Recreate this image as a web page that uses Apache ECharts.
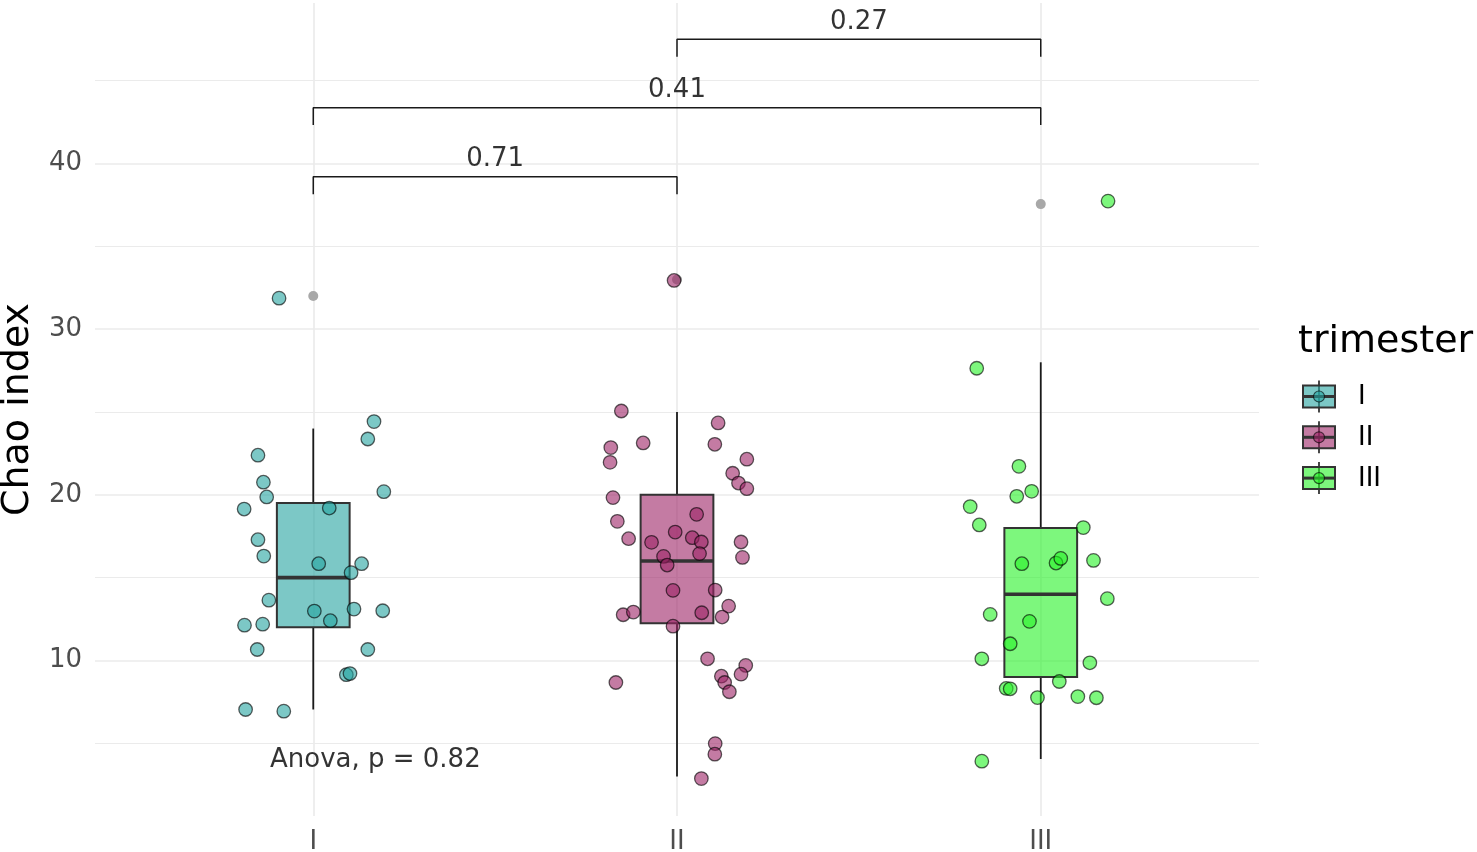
<!DOCTYPE html>
<html>
<head>
<meta charset="utf-8">
<title>Chao index by trimester</title>
<script src="https://cdn.jsdelivr.net/npm/echarts@6/dist/echarts.min.js"></script>
<style>
  html, body { margin: 0; padding: 0; background: #fff; }
  #chart { width: 1477px; height: 852px; }
</style>
</head>
<body>
<div id="chart"></div>
<script>
// categories and tick labels
var categories = ['I', 'II', 'III'];
var yTicks = [10, 20, 30, 40];
var yGrid = [5, 10, 15, 20, 25, 30, 35, 40, 45];

// box stats: [x, lower whisker, Q1, median, Q3, upper whisker]
var boxI = [1, 7.04, 12.0, 15.0, 19.5, 24.0];
var boxII = [2, 3.0, 12.25, 16.0, 20.0, 25.0];
var boxIII = [3, 4.05, 9.0, 14.0, 18.0, 28.0];

// boxplot outliers
var outliers = [[1, 32.0], [2, 33.0], [3, 37.55]];

// jittered samples [x, chao]
var pointsI = [
    [1.167, 24.42], [1.150, 23.37], [0.848, 22.39], [0.863, 20.76], [0.872, 19.87],
    [0.810, 19.14], [1.194, 20.19], [1.044, 19.20], [0.848, 17.29], [0.864, 16.30],
    [1.015, 15.84], [1.133, 15.84], [1.104, 15.30], [0.878, 13.64], [1.003, 12.98],
    [1.112, 13.10], [1.191, 13.00], [1.047, 12.40], [0.811, 12.13], [0.861, 12.19],
    [0.846, 10.66], [1.150, 10.66], [1.091, 9.14], [1.101, 9.21], [0.814, 7.04],
    [0.919, 6.94], [0.906, 31.87]
];
var pointsII = [
    [1.847, 25.06], [2.113, 24.34], [1.907, 23.13], [2.104, 23.05], [1.818, 22.85],
    [1.816, 21.96], [2.192, 22.15], [2.153, 21.30], [2.169, 20.71], [2.192, 20.37],
    [1.824, 19.83], [1.836, 18.40], [2.054, 18.82], [1.867, 17.35], [1.995, 17.75],
    [1.930, 17.13], [2.042, 17.41], [2.067, 17.15], [2.062, 16.45], [2.176, 17.15],
    [2.180, 16.22], [1.963, 16.28], [1.973, 15.76], [1.989, 14.23], [2.105, 14.25],
    [2.142, 13.28], [1.852, 12.76], [1.880, 12.92], [2.068, 12.88], [2.124, 12.62],
    [1.989, 12.07], [2.084, 10.10], [2.189, 9.70], [2.122, 9.05], [2.131, 8.67],
    [2.176, 9.17], [2.144, 8.11], [1.832, 8.67], [2.105, 4.98], [2.104, 4.34],
    [2.067, 2.87], [1.992, 32.94]
];
var pointsIII = [
    [2.824, 27.64], [2.940, 21.72], [2.975, 20.21], [2.934, 19.91], [2.806, 19.29],
    [2.831, 18.18], [3.117, 18.02], [2.948, 15.84], [3.042, 15.88], [3.055, 16.16],
    [3.145, 16.04], [3.183, 13.73], [2.861, 12.78], [2.969, 12.36], [2.916, 11.01],
    [2.838, 10.10], [3.135, 9.86], [3.051, 8.73], [2.905, 8.31], [2.916, 8.29],
    [2.991, 7.76], [3.102, 7.82], [3.153, 7.75], [2.838, 3.92], [3.185, 37.73]
];

// pairwise comparisons
var bracketPairs = [[1, 2], [1, 3], [2, 3]];
var bracketY = [39.2, 43.37, 47.5];
var bracketLabels = ['0.71', '0.41', '0.27'];
var anovaText = 'Anova, p = 0.82';
var anovaPos = [0.881, 3.99];

var fills = ['rgba(37,163,160,0.6)', 'rgba(157,35,102,0.6)', 'rgba(38,242,38,0.6)'];
var font = 'DejaVu Sans';
var tickDrop = 1.05;
var labelLift = 1.05;
var boxHalf = 0.1;

function renderBox(params, api) {
    var x = api.value(0);
    var lo = api.coord([x, api.value(1)]);
    var q1 = api.coord([x, api.value(2)]);
    var med = api.coord([x, api.value(3)]);
    var q3 = api.coord([x, api.value(4)]);
    var hi = api.coord([x, api.value(5)]);
    var hw = api.coord([x + boxHalf, api.value(3)])[0] - med[0];
    var fill = fills[params.seriesIndex - 1];
    return {
        type: 'group',
        children: [
            {type: 'line', shape: {x1: lo[0], y1: lo[1], x2: q1[0], y2: q1[1]},
                style: {stroke: '#1a1a1a', lineWidth: 1.8}},
            {type: 'line', shape: {x1: q3[0], y1: q3[1], x2: hi[0], y2: hi[1]},
                style: {stroke: '#1a1a1a', lineWidth: 1.8}},
            {type: 'rect', shape: {x: med[0] - hw, y: q3[1], width: hw * 2, height: q1[1] - q3[1]},
                style: {fill: fill, stroke: '#333333', lineWidth: 2}},
            {type: 'line', shape: {x1: med[0] - hw, y1: med[1], x2: med[0] + hw, y2: med[1]},
                style: {stroke: '#333333', lineWidth: 3.6}}
        ]
    };
}

function pointSeries(name, data, idx) {
    return {
        name: name,
        type: 'scatter',
        z: 4,
        symbolSize: 13.5,
        data: data,
        itemStyle: {color: fills[idx], borderColor: 'rgba(0,0,0,0.62)', borderWidth: 1.3, opacity: 1}
    };
}

var gridLines = yGrid.map(function (v) {
    var major = v % 10 === 0;
    return {yAxis: v, lineStyle: {color: '#ebebeb', width: major ? 1.7 : 1.1, type: 'solid'}};
}).concat([1, 2, 3].map(function (v) {
    return {xAxis: v, lineStyle: {color: '#ebebeb', width: 1.7, type: 'solid'}};
}));

var series = [
    {
        name: 'grid',
        type: 'line',
        z: 0,
        data: [],
        markLine: {silent: true, z: 0, symbol: ['none', 'none'], label: {show: false}, data: gridLines}
    }
];
[boxI, boxII, boxIII].forEach(function (b, i) {
    series.push({
        name: categories[i] + ' box',
        type: 'custom',
        z: 2,
        renderItem: renderBox,
        encode: {x: 0, y: [1, 2, 3, 4, 5]},
        data: [b]
    });
});
series.push({
    name: 'outliers',
    type: 'scatter',
    z: 3,
    symbolSize: 10,
    data: outliers,
    itemStyle: {color: '#a8a8a8', opacity: 1}
});
series.push(pointSeries('I', pointsI, 0));
series.push(pointSeries('II', pointsII, 1));
series.push(pointSeries('III', pointsIII, 2));

bracketPairs.forEach(function (p, i) {
    var y = bracketY[i];
    series.push({
        name: 'bracket ' + bracketLabels[i],
        type: 'line',
        z: 5,
        symbol: 'none',
        lineStyle: {color: '#1a1a1a', width: 1.5},
        data: [[p[0], y - tickDrop], [p[0], y], [p[1], y], [p[1], y - tickDrop]]
    });
});
series.push({
    name: 'p labels',
    type: 'scatter',
    z: 6,
    symbolSize: 1,
    itemStyle: {color: 'transparent'},
    label: {
        show: true, position: 'inside', color: '#000', fontSize: 26, fontFamily: font,
        formatter: function (p) { return p.value[2]; }
    },
    data: bracketPairs.map(function (p, i) {
        return [(p[0] + p[1]) / 2, bracketY[i] + labelLift, bracketLabels[i]];
    })
});
series.push({
    name: 'anova',
    type: 'scatter',
    z: 6,
    symbolSize: 1,
    itemStyle: {color: 'transparent'},
    label: {
        show: true, position: 'inside', align: 'left', color: '#000', fontSize: 26, fontFamily: font,
        formatter: function (p) { return p.value[2]; }
    },
    data: [[anovaPos[0], anovaPos[1], anovaText]]
});

// legend keys (ggplot-style boxplot glyphs)
var legendChildren = [{
    type: 'text', left: 1298, top: 323,
    style: {text: 'trimester', fontSize: 38, fontFamily: font, fill: '#000'}
}];
categories.forEach(function (c, i) {
    var cy = 396.5 + i * 40.8;
    legendChildren.push(
        {type: 'line', shape: {x1: 1319, y1: cy - 16, x2: 1319, y2: cy + 16}, style: {stroke: '#1a1a1a', lineWidth: 1.6}},
        {type: 'rect', shape: {x: 1303, y: cy - 11, width: 32, height: 22}, style: {fill: fills[i], stroke: '#333333', lineWidth: 2}},
        {type: 'line', shape: {x1: 1303, y1: cy, x2: 1335, y2: cy}, style: {stroke: '#333333', lineWidth: 3}},
        {type: 'circle', shape: {cx: 1319, cy: cy, r: 5.5}, style: {fill: fills[i], stroke: 'rgba(0,0,0,0.62)', lineWidth: 1.2}},
        {type: 'text', x: 1358, y: cy + 1, style: {text: c, fontSize: 26, fontFamily: font, fill: '#000', verticalAlign: 'middle'}}
    );
});

var myChart = echarts.init(document.getElementById('chart'));
var option = {
    animation: false,
    textStyle: {fontFamily: font},
    grid: {left: 95, right: 218, top: 3, bottom: 36, containLabel: false, outerBoundsMode: 'none'},
    xAxis: {
        type: 'value',
        min: 0.4,
        max: 3.6,
        axisLine: {show: false},
        axisTick: {show: false},
        splitLine: {show: false},
        axisLabel: {
            customValues: [1, 2, 3],
            margin: 13,
            fontSize: 26,
            color: '#4d4d4d',
            formatter: function (v) { return categories[Math.round(v) - 1]; }
        }
    },
    yAxis: {
        type: 'value',
        min: 0.61,
        max: 49.69,
        name: 'Chao index',
        nameLocation: 'middle',
        nameGap: 58,
        nameTextStyle: {fontSize: 38, color: '#000', fontFamily: font},
        axisLine: {show: false},
        axisTick: {show: false},
        splitLine: {show: false},
        axisLabel: {
            customValues: yTicks,
            margin: 13,
            fontSize: 26,
            color: '#4d4d4d'
        }
    },
    graphic: legendChildren,
    series: series
};
myChart.setOption(option);
</script>
</body>
</html>
